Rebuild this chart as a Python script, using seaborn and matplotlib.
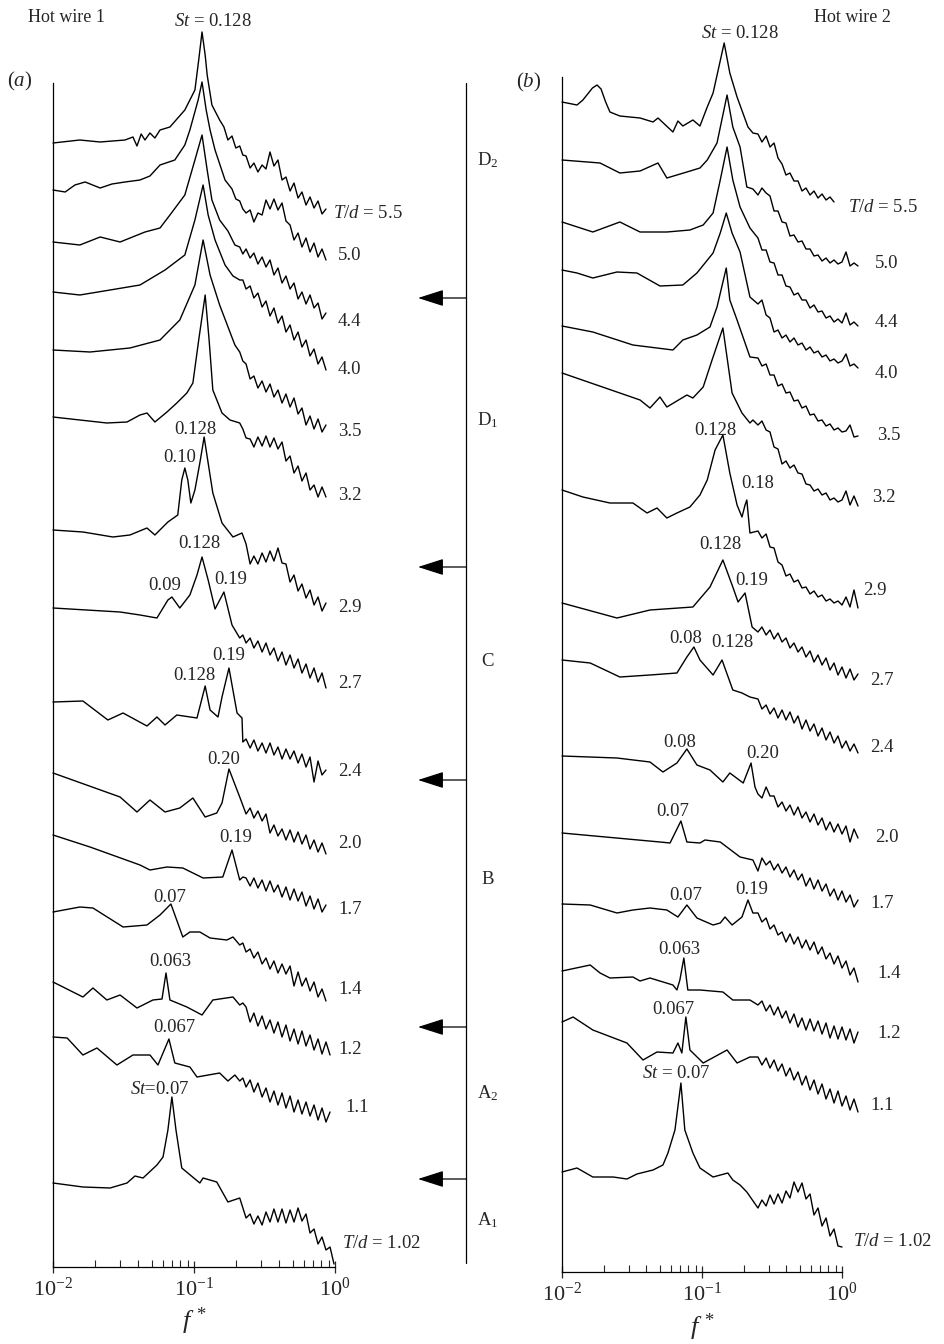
import numpy as np
import pandas as pd
import matplotlib
matplotlib.use("Agg")
import matplotlib.pyplot as plt
import seaborn as sns

# Spectra are stacked with an offset, so the vertical values are arbitrary units.
# Each spectrum = a low-frequency part (own f points) + a noisy high-frequency
# part read on a common frequency grid (fa_hi / fb_hi).
fa_hi = [0.234, 0.250, 0.266, 0.284, 0.304, 0.324, 0.346, 0.369, 0.394, 0.421, 0.449, 0.480,
         0.512, 0.547, 0.583, 0.623, 0.665, 0.710, 0.758, 0.809, 0.863, 0.922, 0.984]
fb_hi = [0.251, 0.268, 0.287, 0.306, 0.327, 0.349, 0.373, 0.398, 0.425, 0.454, 0.485, 0.518, 0.553,
         0.591, 0.631, 0.674, 0.720, 0.769, 0.821, 0.877, 0.936, 1.000, 1.068, 1.141, 1.218, 1.301]

# ---- panel (a): hot wire 1
a55_f = [0.0100, 0.0155, 0.0216, 0.0324, 0.0369, 0.0394, 0.0422, 0.0449, 0.0487, 0.0528, 0.0574, 0.0675, 0.0861, 0.1015, 0.108, 0.114, 0.120, 0.124, 0.134, 0.152, 0.163, 0.174, 0.186, 0.198, 0.211, 0.222]
a55_p = [1124, 1127, 1125, 1127, 1130, 1121, 1133, 1127, 1134, 1129, 1137, 1140, 1157, 1177, 1207, 1235, 1212, 1192, 1162, 1147, 1140, 1127, 1131, 1119, 1121, 1112]
a55_hi = [1111, 1099, 1104, 1095, 1102, 1098, 1115, 1101, 1107, 1087, 1090, 1076, 1084, 1069, 1075, 1062, 1070, 1059, 1066, 1053, 1058]
a50_f = [0.0100, 0.0122, 0.0143, 0.0169, 0.0216, 0.0262, 0.0324, 0.0414, 0.0487, 0.0574, 0.0731, 0.0861, 0.0935, 0.107, 0.114, 0.122, 0.130, 0.141, 0.166, 0.186, 0.198, 0.211, 0.222]
a50_p = [1077, 1075, 1082, 1085, 1079, 1083, 1085, 1087, 1091, 1102, 1107, 1122, 1137, 1167, 1185, 1157, 1137, 1117, 1087, 1078, 1068, 1066, 1058]
a50_hi = [1054, 1057, 1045, 1054, 1052, 1067, 1058, 1068, 1057, 1064, 1046, 1042, 1027, 1034, 1020, 1029, 1015, 1024, 1010, 1018, 1007]
a44_f = [0.0100, 0.0155, 0.0216, 0.0299, 0.0449, 0.0574, 0.0675, 0.0861, 0.1015, 0.114, 0.124, 0.134, 0.152, 0.174, 0.195, 0.211, 0.222]
a44_p = [1025, 1022, 1030, 1025, 1035, 1039, 1052, 1072, 1107, 1132, 1097, 1067, 1047, 1036, 1022, 1020, 1013]
a44_hi = [1018, 1009, 1014, 1003, 1010, 1000, 1007, 992, 999, 984, 991, 978, 984, 968, 975, 963, 972, 959, 964, 948, 954]
a40_f = [0.0100, 0.0155, 0.0254, 0.0414, 0.0623, 0.0861, 0.1015, 0.116, 0.126, 0.141, 0.166, 0.189, 0.211, 0.222]
a40_p = [975, 972, 977, 982, 997, 1012, 1047, 1082, 1052, 1027, 1002, 991, 987, 987]
a40_hi = [978, 981, 969, 974, 960, 966, 951, 959, 944, 951, 935, 942, 927, 935, 920, 927, 911, 918, 903, 910, 897]
a35_f = [0.0100, 0.0183, 0.0351, 0.0574, 0.0793, 0.1015, 0.116, 0.130, 0.152, 0.195, 0.211, 0.222]
a35_p = [917, 915, 919, 927, 947, 982, 1027, 992, 962, 922, 915, 906]
a35_hi = [903, 888, 891, 879, 886, 875, 883, 870, 877, 864, 873, 860, 869, 853, 859, 842, 851, 838, 848, 835, 842]
a32_f = [0.0100, 0.0155, 0.0241, 0.0335, 0.0414, 0.0464, 0.0528, 0.0643, 0.0755, 0.0890, 0.0982, 0.108, 0.120, 0.128, 0.136, 0.158, 0.180, 0.211, 0.222]
a32_p = [850, 847, 844, 845, 852, 854, 845, 855, 864, 874, 884, 927, 972, 927, 877, 854, 847, 844, 838]
a32_hi = [829, 828, 820, 830, 821, 831, 820, 829, 818, 825, 806, 811, 794, 801, 786, 794, 777, 782, 770, 780, 770]
a29_f = [0.0100, 0.0163, 0.0266, 0.0351, 0.0464, 0.0528, 0.0653, 0.0767, 0.0819, 0.0861, 0.0904, 0.0950, 0.1015, 0.110, 0.118, 0.126, 0.136, 0.158, 0.189, 0.219]
a29_p = [737, 735, 730, 732, 739, 732, 745, 752, 787, 799, 787, 764, 777, 804, 830, 804, 774, 744, 730, 734]
a29_hi = [723, 703, 711, 703, 714, 705, 716, 706, 719, 704, 703, 685, 692, 676, 683, 669, 677, 662, 670, 656, 664]
a27_f = [0.0100, 0.0299, 0.0414, 0.0546, 0.0653, 0.0697, 0.0793, 0.0935, 0.105, 0.114, 0.126, 0.141, 0.163, 0.186, 0.211, 0.222]
a27_p = [659, 655, 652, 649, 667, 670, 659, 672, 692, 710, 687, 658, 675, 642, 629, 632]
a27_hi = [624, 629, 619, 626, 615, 624, 612, 619, 606, 615, 602, 612, 599, 608, 594, 603, 589, 599, 585, 594, 579]
a24_f = [0.0100, 0.0163, 0.0245, 0.0314, 0.0464, 0.0546, 0.0623, 0.0755, 0.105, 0.120, 0.130, 0.148, 0.158, 0.177, 0.202, 0.219, 0.222]
a24_p = [565, 566, 547, 554, 541, 550, 542, 552, 549, 581, 557, 550, 570, 599, 554, 549, 525]
a24_hi = [528, 519, 527, 516, 524, 514, 524, 512, 520, 508, 518, 508, 516, 504, 513, 500, 510, 485, 506, 492, 497]
a20_f = [0.0100, 0.0299, 0.0394, 0.0487, 0.0623, 0.0793, 0.0982, 0.120, 0.145, 0.158, 0.177, 0.211]
a20_p = [494, 470, 455, 467, 455, 459, 469, 450, 454, 464, 498, 470]
a20_hi = [453, 459, 449, 456, 446, 453, 434, 442, 431, 438, 427, 437, 425, 435, 423, 432, 418, 427, 415, 424, 413]
a17_f = [0.0100, 0.0183, 0.0414, 0.0487, 0.0643, 0.0833, 0.116, 0.160, 0.186, 0.211, 0.222]
a17_p = [432, 420, 402, 397, 400, 399, 389, 390, 417, 387, 390]
a17_hi = [389, 381, 389, 379, 387, 376, 386, 375, 382, 370, 380, 367, 378, 366, 375, 361, 371, 358, 368, 355, 362]
a14_f = [0.0100, 0.0155, 0.0192, 0.0314, 0.0464, 0.0574, 0.0686, 0.0833, 0.0935, 0.110, 0.130, 0.171, 0.189, 0.211, 0.222]
a14_p = [355, 360, 359, 340, 342, 352, 363, 330, 335, 335, 329, 327, 330, 322, 324]
a14_hi = [315, 318, 309, 315, 303, 309, 298, 306, 294, 303, 293, 301, 281, 295, 281, 289, 276, 285, 270, 278, 266]
a12_f = [0.0100, 0.0163, 0.0192, 0.0241, 0.0299, 0.0394, 0.0511, 0.0593, 0.0633, 0.0675, 0.0890, 0.114, 0.136, 0.189, 0.211, 0.222]
a12_p = [285, 270, 279, 267, 272, 259, 267, 268, 294, 267, 260, 252, 267, 270, 262, 264]
a12_hi = [260, 245, 254, 241, 251, 238, 247, 234, 245, 230, 242, 226, 238, 223, 236, 221, 232, 217, 228, 213, 225, 212]
a11_f = [0.0100, 0.0126, 0.0163, 0.0205, 0.0284, 0.0369, 0.0487, 0.0555, 0.0664, 0.0731, 0.0935, 0.105, 0.152, 0.174, 0.195, 0.211, 0.222]
a11_p = [230, 229, 212, 219, 202, 212, 212, 202, 228, 204, 200, 190, 194, 186, 192, 186, 189]
a11_hi = [180, 187, 175, 184, 170, 179, 165, 176, 162, 174, 159, 171, 155, 167, 153, 165, 151, 162, 147, 159, 145, 155]
a102_f = [0.0100, 0.0163, 0.0254, 0.0335, 0.0381, 0.0435, 0.0546, 0.0603, 0.0653, 0.0697, 0.0745, 0.0819, 0.110, 0.116, 0.145, 0.174, 0.211]
a102_p = [84, 80, 79, 84, 91, 89, 102, 110, 137, 170, 137, 99, 84, 89, 85, 65, 69]
a102_hi = [49, 53, 43, 51, 42, 55, 45, 58, 45, 58, 44, 57, 45, 59, 46, 53, 34, 38, 23, 30, 17, 20, 3]

# ---- panel (b): hot wire 2
b55_f = [0.0100, 0.0128, 0.0141, 0.0165, 0.0178, 0.0190, 0.0205, 0.0220, 0.0259, 0.0361, 0.0447, 0.0485, 0.0620, 0.0673, 0.0730, 0.0861, 0.0967, 0.109, 0.120, 0.144, 0.158, 0.178, 0.213, 0.231]
b55_p = [1170, 1167, 1172, 1184, 1187, 1183, 1170, 1160, 1156, 1154, 1150, 1154, 1140, 1151, 1146, 1152, 1146, 1165, 1179, 1229, 1199, 1175, 1145, 1139]
b55_hi = [1138, 1130, 1136, 1125, 1129, 1114, 1108, 1097, 1099, 1091, 1091, 1081, 1084, 1077, 1081, 1074, 1078, 1072, 1075, 1070]
b50_f = [0.0100, 0.0187, 0.0259, 0.0361, 0.0485, 0.0561, 0.0780, 0.0967, 0.109, 0.128, 0.151, 0.166, 0.187, 0.209, 0.231]
b50_p = [1112, 1109, 1099, 1101, 1109, 1094, 1100, 1104, 1112, 1129, 1177, 1145, 1125, 1085, 1083]
b50_hi = [1077, 1084, 1079, 1076, 1061, 1061, 1050, 1049, 1036, 1037, 1030, 1031, 1023, 1023, 1016, 1017, 1011, 1014, 1009, 1012, 1008, 1010, 1020, 1006, 1009, 1006]
b44_f = [0.0100, 0.0166, 0.0259, 0.0361, 0.0561, 0.0820, 0.102, 0.120, 0.135, 0.151, 0.166, 0.187, 0.220]
b44_p = [1050, 1040, 1050, 1040, 1040, 1042, 1047, 1059, 1092, 1125, 1092, 1065, 1044]
b44_hi = [1034, 1022, 1022, 1010, 1009, 997, 997, 986, 985, 977, 979, 972, 972, 964, 967, 960, 961, 954, 956, 950, 953, 949, 959, 947, 950, 946]
b40_f = [0.0100, 0.0128, 0.0166, 0.0247, 0.0343, 0.0501, 0.0730, 0.0920, 0.120, 0.135, 0.149, 0.164, 0.187, 0.220]
b40_p = [1002, 999, 994, 1000, 999, 986, 987, 999, 1019, 1039, 1059, 1039, 1020, 975]
b40_hi = [968, 972, 957, 954, 940, 942, 934, 937, 930, 934, 927, 929, 922, 925, 919, 921, 915, 917, 911, 913, 909, 911, 918, 906, 908, 904]
b35_f = [0.0100, 0.0166, 0.0321, 0.0620, 0.0730, 0.0920, 0.114, 0.128, 0.149, 0.158, 0.178, 0.220]
b35_p = [946, 940, 927, 922, 932, 937, 945, 965, 1004, 972, 952, 915]
b35_hi = [914, 906, 908, 897, 897, 886, 888, 879, 880, 871, 872, 864, 866, 857, 858, 851, 852, 846, 848, 842, 844, 840, 841, 847, 835, 836]
b32_f = [0.0100, 0.0361, 0.0425, 0.0501, 0.0561, 0.0780, 0.0861, 0.102, 0.118, 0.141, 0.164, 0.193, 0.220, 0.231]
b32_p = [899, 872, 864, 875, 865, 877, 874, 885, 912, 944, 879, 859, 849, 852]
b32_hi = [847, 851, 842, 840, 825, 823, 808, 811, 804, 807, 799, 798, 788, 787, 781, 783, 777, 779, 772, 774, 770, 772, 781, 767, 776, 766]
b29_f = [0.0100, 0.0141, 0.0220, 0.0321, 0.0405, 0.0477, 0.0561, 0.0662, 0.0820, 0.0967, 0.109, 0.124, 0.141, 0.158, 0.178, 0.193, 0.203, 0.209, 0.220]
b29_p = [782, 775, 769, 769, 759, 764, 754, 759, 765, 777, 792, 822, 837, 799, 767, 755, 767, 772, 739]
b29_hi = [741, 734, 738, 725, 724, 710, 707, 696, 698, 690, 692, 684, 685, 678, 681, 675, 677, 671, 673, 669, 671, 667, 675, 665, 682, 664]
b27_f = [0.0100, 0.0247, 0.0425, 0.0861, 0.114, 0.141, 0.166, 0.181, 0.203, 0.228]
b27_p = [669, 654, 662, 665, 685, 712, 685, 670, 679, 645]
b27_hi = [640, 645, 637, 642, 633, 639, 630, 634, 624, 629, 620, 625, 615, 621, 610, 617, 607, 614, 602, 609, 597, 605, 594, 603, 592, 598]
b24_f = [0.0100, 0.0159, 0.0259, 0.0425, 0.0662, 0.0780, 0.0875, 0.0967, 0.120, 0.139, 0.166, 0.193, 0.220]
b24_p = [612, 609, 595, 597, 599, 615, 625, 612, 597, 612, 582, 579, 575]
b24_hi = [573, 563, 567, 558, 564, 554, 562, 552, 560, 549, 556, 543, 552, 541, 548, 536, 544, 532, 540, 529, 536, 524, 531, 521, 528, 519]
b20_f = [0.0100, 0.0247, 0.0425, 0.0526, 0.0662, 0.0780, 0.0920, 0.114, 0.141, 0.158, 0.197, 0.224, 0.239]
b20_p = [516, 514, 510, 500, 509, 523, 507, 502, 490, 499, 489, 509, 485]
b20_hi = [478, 474, 485, 476, 476, 465, 470, 461, 467, 457, 465, 454, 460, 450, 458, 447, 454, 442, 450, 440, 448, 438, 446, 430, 443, 434]
b17_f = [0.0100, 0.0501, 0.0591, 0.0707, 0.0780, 0.0967, 0.105, 0.135, 0.187, 0.231]
b17_p = [439, 430, 429, 451, 430, 429, 432, 430, 415, 412]
b17_hi = [401, 414, 407, 411, 402, 408, 399, 405, 395, 402, 392, 398, 386, 394, 383, 392, 381, 388, 376, 383, 372, 381, 370, 377, 365, 372]
b14_f = [0.0100, 0.0159, 0.0247, 0.0321, 0.0425, 0.0561, 0.0673, 0.0780, 0.0920, 0.120, 0.135, 0.146, 0.164, 0.193, 0.213, 0.231]
b14_p = [368, 367, 359, 362, 364, 362, 355, 367, 354, 347, 349, 355, 347, 355, 372, 359]
b14_hi = [359, 350, 354, 343, 347, 337, 340, 330, 338, 328, 335, 324, 332, 322, 330, 318, 325, 313, 319, 308, 316, 304, 311, 297, 304, 290]
b12_f = [0.0100, 0.0159, 0.0187, 0.0220, 0.0321, 0.0361, 0.0425, 0.0620, 0.0662, 0.0695, 0.0742, 0.0792, 0.0967, 0.141, 0.166, 0.220]
b12_p = [301, 307, 299, 294, 295, 291, 294, 287, 282, 292, 314, 282, 282, 280, 272, 272]
b12_hi = [267, 271, 261, 267, 257, 265, 254, 261, 249, 258, 245, 254, 242, 253, 241, 251, 238, 249, 234, 246, 233, 245, 232, 243, 229, 240]
b11_f = [0.0100, 0.0120, 0.0166, 0.0291, 0.0379, 0.0477, 0.0620, 0.0673, 0.0718, 0.0767, 0.0820, 0.102, 0.151, 0.178, 0.220]
b11_p = [250, 255, 242, 229, 212, 220, 219, 229, 219, 255, 222, 209, 222, 209, 215]
b11_hi = [215, 207, 214, 204, 212, 201, 208, 196, 204, 192, 200, 187, 196, 182, 192, 178, 188, 173, 183, 169, 181, 166, 176, 162, 173, 160]
b102_f = [0.0100, 0.0128, 0.0166, 0.0232, 0.0291, 0.0343, 0.0447, 0.0526, 0.0571, 0.0641, 0.0707, 0.0754, 0.0861, 0.0967, 0.120, 0.153, 0.166, 0.187, 0.209]
b102_p = [100, 104, 95, 95, 93, 98, 102, 107, 119, 142, 189, 142, 119, 104, 95, 99, 92, 87, 80]
b102_hi = [64, 72, 66, 77, 68, 78, 69, 81, 74, 90, 80, 89, 73, 78, 57, 64, 46, 54, 36, 43, 26, 25]

td_values = ["5.5", "5.0", "4.4", "4.0", "3.5", "3.2", "2.9", "2.7", "2.4", "2.0", "1.7", "1.4", "1.2", "1.1", "1.02"]
a_curves = [(a55_f, a55_p, a55_hi), (a50_f, a50_p, a50_hi), (a44_f, a44_p, a44_hi), (a40_f, a40_p, a40_hi),
            (a35_f, a35_p, a35_hi), (a32_f, a32_p, a32_hi), (a29_f, a29_p, a29_hi), (a27_f, a27_p, a27_hi),
            (a24_f, a24_p, a24_hi), (a20_f, a20_p, a20_hi), (a17_f, a17_p, a17_hi), (a14_f, a14_p, a14_hi),
            (a12_f, a12_p, a12_hi), (a11_f, a11_p, a11_hi), (a102_f, a102_p, a102_hi)]
b_curves = [(b55_f, b55_p, b55_hi), (b50_f, b50_p, b50_hi), (b44_f, b44_p, b44_hi), (b40_f, b40_p, b40_hi),
            (b35_f, b35_p, b35_hi), (b32_f, b32_p, b32_hi), (b29_f, b29_p, b29_hi), (b27_f, b27_p, b27_hi),
            (b24_f, b24_p, b24_hi), (b20_f, b20_p, b20_hi), (b17_f, b17_p, b17_hi), (b14_f, b14_p, b14_hi),
            (b12_f, b12_p, b12_hi), (b11_f, b11_p, b11_hi), (b102_f, b102_p, b102_hi)]

# peak annotations and where they sit
a_peaks = ["$St$ = 0.128", "0.128", "0.10", "0.128", "0.09", "0.19", "0.19", "0.128", "0.20", "0.19", "0.07", "0.063", "0.067", "$St$=0.07"]
a_peak_pos = [(0.136, 1246), (0.1015, 838), (0.0793, 809), (0.110, 723), (0.0623, 682), (0.183, 688),
              (0.177, 612), (0.100, 592), (0.163, 508), (0.199, 430), (0.0675, 370), (0.0675, 305),
              (0.0731, 240), (0.0574, 177)]
b_peaks = ["$St$ = 0.128", "0.128", "0.18", "0.128", "0.19", "0.08", "0.128", "0.08", "0.20", "0.07", "0.07", "0.19", "0.063", "0.067", "$St$ = 0.07"]
b_peak_pos = [(0.187, 1239), (0.124, 842), (0.251, 789), (0.135, 728), (0.228, 692), (0.0767, 634),
              (0.164, 630), (0.0695, 530), (0.273, 519), (0.062, 460), (0.0767, 377), (0.228, 382),
              (0.0686, 322), (0.062, 262), (0.0652, 199)]
a_td_pos = [(0.968, 1054), (1.05, 1012), (1.05, 945), (1.05, 897), (1.05, 835), (1.05, 772), (1.05, 659),
            (1.05, 584), (1.05, 495), (1.05, 424), (1.05, 357), (1.05, 277), (1.05, 217), (1.18, 159), (1.12, 24)]
b_td_pos = [(1.10, 1065), (1.72, 1009), (1.72, 950), (1.72, 899), (1.78, 837), (1.64, 775), (1.41, 682),
            (1.585, 592), (1.585, 525), (1.72, 434), (1.585, 369), (1.78, 299), (1.78, 239), (1.585, 167), (1.20, 30)]

regimes = ["D$_2$", "D$_1$", "C", "B", "A$_2$", "A$_1$"]
regime_y = [160, 420, 662, 880, 1093, 1220]
arrow_y = [298, 567, 780, 1027, 1179]

sns.set_style("ticks")
plt.rcParams["font.family"] = ["Liberation Serif", "DejaVu Serif"]
plt.rcParams["mathtext.fontset"] = "custom"
plt.rcParams["mathtext.rm"] = "Liberation Serif"
plt.rcParams["mathtext.it"] = "Liberation Serif:italic"
plt.rcParams["mathtext.bf"] = "Liberation Serif:bold"

W, H = 945, 1344
fig = plt.figure(figsize=(W / 100, H / 100), dpi=100)


def make_df(curves, grid):
    rows = []
    for td, (f, p, hi) in zip(td_values, curves):
        ff = list(f) + grid[:len(hi)]
        pp = list(p) + list(hi)
        rows.append(pd.DataFrame({"f": ff, "psd": pp, "Td": td}))
    return pd.concat(rows, ignore_index=True)


def draw_panel(rect, top, curves, grid, peaks, peak_pos, td_pos):
    ax = fig.add_axes(rect)
    df = make_df(curves, grid)
    sns.lineplot(data=df, x="f", y="psd", units="Td", estimator=None, sort=False,
                 color="black", lw=1.0, ax=ax, legend=False)
    for ln in ax.lines:
        ln.set_clip_on(False)
    ax.set_xscale("log")
    ax.set_xlim(0.01, 1)
    ax.set_ylim(0, top)
    ax.set_yticks([])
    ax.set_xlabel("")
    ax.set_ylabel("")
    ax.set_xticks([0.01, 0.1, 1])
    sns.despine(ax=ax)
    for s in ["left", "bottom"]:
        ax.spines[s].set_linewidth(0.9)
        ax.spines[s].set_color("black")
    ax.tick_params(axis="x", which="major", direction="inout", length=9, width=0.9, labelsize=16, pad=3)
    ax.tick_params(axis="x", which="minor", direction="in", length=5, width=0.8)
    for txt, (x, y) in zip(peaks, peak_pos):
        ax.text(x, y, txt, ha="center", va="center", fontsize=13.5)
    for i, (x, y) in enumerate(td_pos):
        lab = td_values[i]
        if i in (0, len(td_pos) - 1):
            lab = "$T/d$ = " + lab
        ax.text(x, y, lab, ha="left", va="center", fontsize=13.5)
    ax.text(0.5, -0.046, r"$f^{\,*}$", transform=ax.transAxes, ha="center", va="center", fontsize=19)
    return ax


ax_a = draw_panel([53 / W, 1 - 1267 / H, 282 / W, 1184 / H], 1184, a_curves, fa_hi, a_peaks, a_peak_pos, a_td_pos)
ax_b = draw_panel([562 / W, 1 - 1272 / H, 280 / W, 1195 / H], 1195, b_curves, fb_hi, b_peaks, b_peak_pos, b_td_pos)

# overlay in pixel units for titles and the regime bar
ov = fig.add_axes([0, 0, 1, 1], zorder=-1)
ov.set_xlim(0, W)
ov.set_ylim(H, 0)
ov.axis("off")
ov.text(66, 17, "Hot wire 1", ha="center", va="center", fontsize=13)
ov.text(852, 17, "Hot wire 2", ha="center", va="center", fontsize=13)
ov.text(20, 81, "($a$)", ha="center", va="center", fontsize=15)
ov.text(529, 82, "($b$)", ha="center", va="center", fontsize=15)
ov.plot([466, 466], [83, 1263], color="black", lw=0.9)
for y in arrow_y:
    ov.annotate("", xy=(418, y), xytext=(466, y),
                arrowprops=dict(arrowstyle="-|>,head_length=1.0,head_width=0.32", mutation_scale=16,
                                color="black", lw=0.9, shrinkA=0, shrinkB=0))
for lab, y in zip(regimes, regime_y):
    ov.text(488, y, lab, ha="center", va="center", fontsize=13.5)

fig.savefig("out.png", dpi=100)
